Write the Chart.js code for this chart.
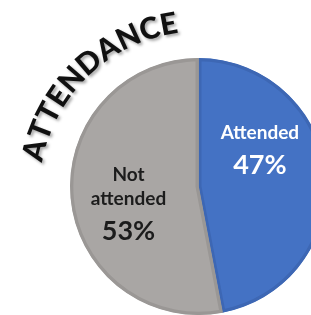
<!DOCTYPE html>
<html>
<head>
<meta charset="utf-8">
<script src="https://cdn.jsdelivr.net/npm/chart.js@4"></script>
<style>
    html, body { margin: 0; padding: 0; background: #fff; }
    body { width: 311px; height: 315px; overflow: hidden; position: relative; }
    #wrap { position: absolute; left: 0; top: 0; width: 400px; height: 400px; }
</style>
</head>
<body>
<div id="wrap"><canvas id="attendanceChart" width="400" height="400"></canvas></div>
<script>
// Chart data
const chartTitle = 'ATTENDANCE';
const categories = ['Attended', 'Not attended'];
const shares = [47, 53];

// Styling
const fillColors = ['#4472C4', '#A9A6A4'];
const edgeColors = ['#3D67B4', '#9A9795'];
const labelColors = ['#ffffff', '#1c1c1c'];
const labelTurn = [-26, -8];   // degrees, nudges labels like the original
const labelFont = 'Lato, "DejaVu Sans", sans-serif';

// Curved title along an arc above the pie
const curvedTitle = {
    id: 'curvedTitle',
    afterDraw(chart) {
        const ctx = chart.ctx;
        const arc = chart.getDatasetMeta(0).data[0];
        const cx = arc.x + 1, cy = arc.y + 5;
        const r = 160;
        ctx.save();
        ctx.font = '900 30px ' + labelFont;
        ctx.fillStyle = '#111';
        ctx.shadowColor = 'rgba(0,0,0,0.35)';
        ctx.shadowBlur = 3;
        ctx.shadowOffsetX = 2;
        ctx.shadowOffsetY = 2;
        ctx.textAlign = 'center';
        ctx.textBaseline = 'alphabetic';
        const letters = chartTitle.split('');
        const widths = letters.map(ch => ctx.measureText(ch).width);
        const total = widths.reduce((a, b) => a + b, 0);
        const midAngle = 226.5 * Math.PI / 180;
        let a = midAngle - total / r / 2;
        letters.forEach((ch, i) => {
            const w = widths[i];
            const ang = a + w / r / 2;
            ctx.save();
            ctx.translate(cx + r * Math.cos(ang), cy + r * Math.sin(ang));
            ctx.rotate(ang + Math.PI / 2);
            ctx.fillText(ch, 0, 0);
            ctx.restore();
            a += w / r;
        });
        ctx.restore();
    }
};

// Slice labels: category name plus percentage
const sliceLabels = {
    id: 'sliceLabels',
    afterDatasetsDraw(chart) {
        const ctx = chart.ctx;
        const total = shares.reduce((a, b) => a + b, 0);
        chart.getDatasetMeta(0).data.forEach((arc, i) => {
            const mid = (arc.startAngle + arc.endAngle) / 2 + labelTurn[i] * Math.PI / 180;
            const dist = arc.outerRadius * 0.56;
            const x = arc.x + Math.cos(mid) * dist;
            const y = arc.y + Math.sin(mid) * dist;

            ctx.save();
            ctx.fillStyle = labelColors[i];
            ctx.textAlign = 'center';
            ctx.textBaseline = 'middle';
            ctx.font = 'bold 19px ' + labelFont;
            let lines = [categories[i]];
            if (ctx.measureText(categories[i]).width > 95) lines = categories[i].split(' ');
            const pct = Math.round(shares[i] / total * 100) + '%';
            const blockH = (lines.length - 1) * 24 + 33;
            let ty = y - blockH / 2;
            lines.forEach(line => {
                ctx.fillText(line, x, ty);
                ty += 24;
            });
            ctx.font = 'bold 27px ' + labelFont;
            ctx.fillText(pct, x, ty - 24 + 33);
            ctx.restore();
        });
    }
};

new Chart(document.getElementById('attendanceChart'), {
    type: 'pie',
    data: {
        labels: categories,
        datasets: [{
            data: shares,
            backgroundColor: fillColors,
            borderColor: edgeColors,
            borderWidth: 3,
            borderAlign: 'inner'
        }]
    },
    options: {
        responsive: false,
        animation: false,
        layout: { padding: { left: 70, top: 58, right: 73, bottom: 85 } },
        plugins: {
            legend: { display: false },
            tooltip: { enabled: false },
            title: { display: false }
        }
    },
    plugins: [sliceLabels, curvedTitle]
});
</script>
</body>
</html>
